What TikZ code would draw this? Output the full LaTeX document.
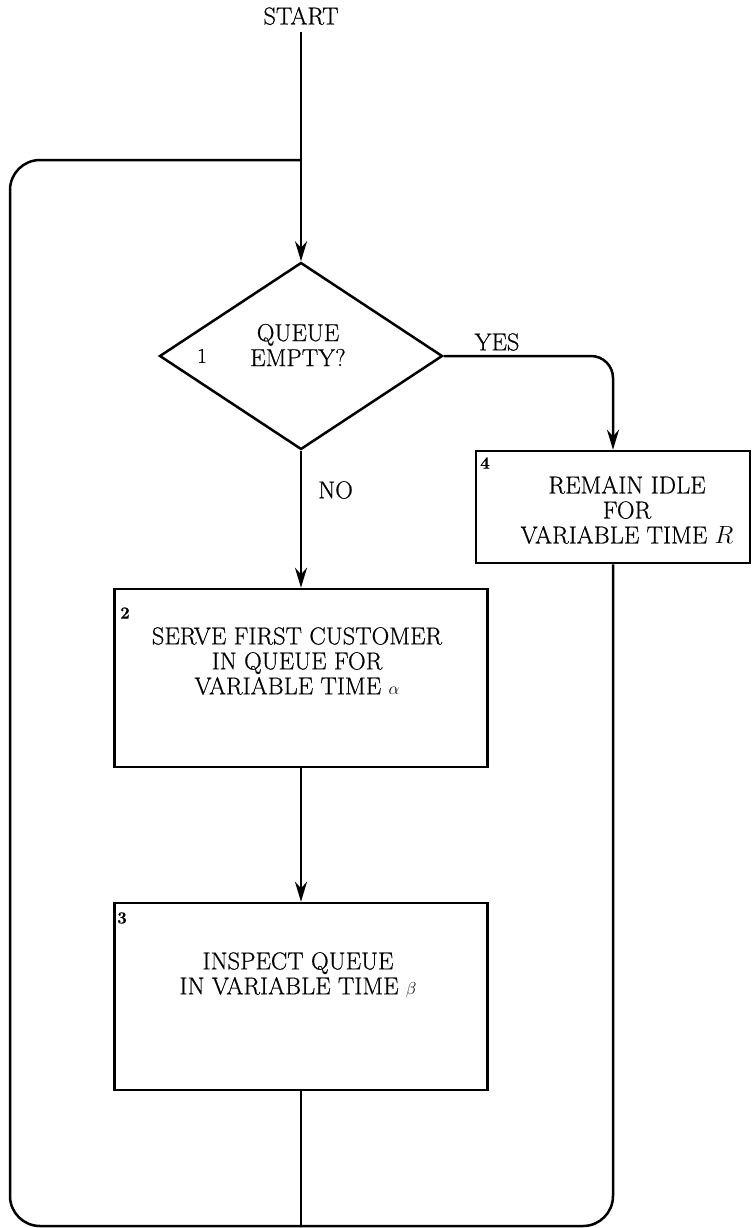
\documentclass[tikz,border=0pt]{standalone}
\usepackage{fontspec}
\setmainfont{Latin Modern Roman}[FakeBold=0.6]
\usetikzlibrary{shapes.geometric,arrows.meta}
\begin{document}
\begin{tikzpicture}[x=1pt,y=-1pt, line width=2.5pt,
  txt/.style={font=\fontsize{24.5}{25}\selectfont, align=center, inner sep=0},
  num/.style={font=\fontsize{17}{18}\selectfont\bfseries, inner sep=0},
  boxx/.style={draw, rectangle, inner sep=0},
  arr/.style={-{Stealth[length=20pt,width=12pt]}}]
\useasboundingbox (0,0) rectangle (752,1228);
% nodes
\node[txt] (start) at (301,16) {START};
\coordinate (s0) at (301,32);
\node[draw, diamond, minimum width=283pt, minimum height=187pt, inner sep=0] (d1) at (301,356) {};
\node[txt] (d1t) at (298,345) {QUEUE\\EMPTY?};
\node[font=\fontsize{21}{22}\selectfont, inner sep=0] (n1) at (202,356) {1};
\node[boxx, minimum width=274pt, minimum height=112pt] (b4) at (613,507) {};
\node[txt] (b4t) at (627,510) {REMAIN IDLE\\FOR\\VARIABLE TIME $R$};
\node[num] (n4) at (485,463) {4};
\node[boxx, minimum width=373pt, minimum height=178pt] (b2) at (301,678) {};
\node[txt] (b2t) at (297,661) {SERVE FIRST CUSTOMER\\IN QUEUE FOR\\VARIABLE TIME $\scriptstyle\alpha$};
\node[num] (n2) at (125,613) {2};
\node[boxx, minimum width=373pt, minimum height=187pt] (b3) at (301,996.5) {};
\node[txt] (b3t) at (298,975) {INSPECT QUEUE\\IN VARIABLE TIME $\scriptstyle\beta$};
\node[num] (n3) at (122,918) {3};
\node[txt] (yes) at (497,342) {YES};
\node[txt, anchor=west] (no) at (317,490) {NO};
% loop coordinates
\coordinate (j) at (301,160);
\coordinate (tl) at (10,160);
\coordinate (bl) at (10,1226);
\coordinate (br) at (613,1226);
% connectors
\draw[arr] (s0) -- (d1.north);
\draw[arr, rounded corners=22pt] (d1.east) -| (b4.north);
\draw[arr] (d1.south) -- (b2.north);
\draw[arr] (b2.south) -- (b3.north);
\draw (b3.south) -- (b3.south |- bl);
\draw[rounded corners=30pt] (b4.south) -- (br) -- (bl) -- (tl) -- (j);
\end{tikzpicture}
\end{document}
